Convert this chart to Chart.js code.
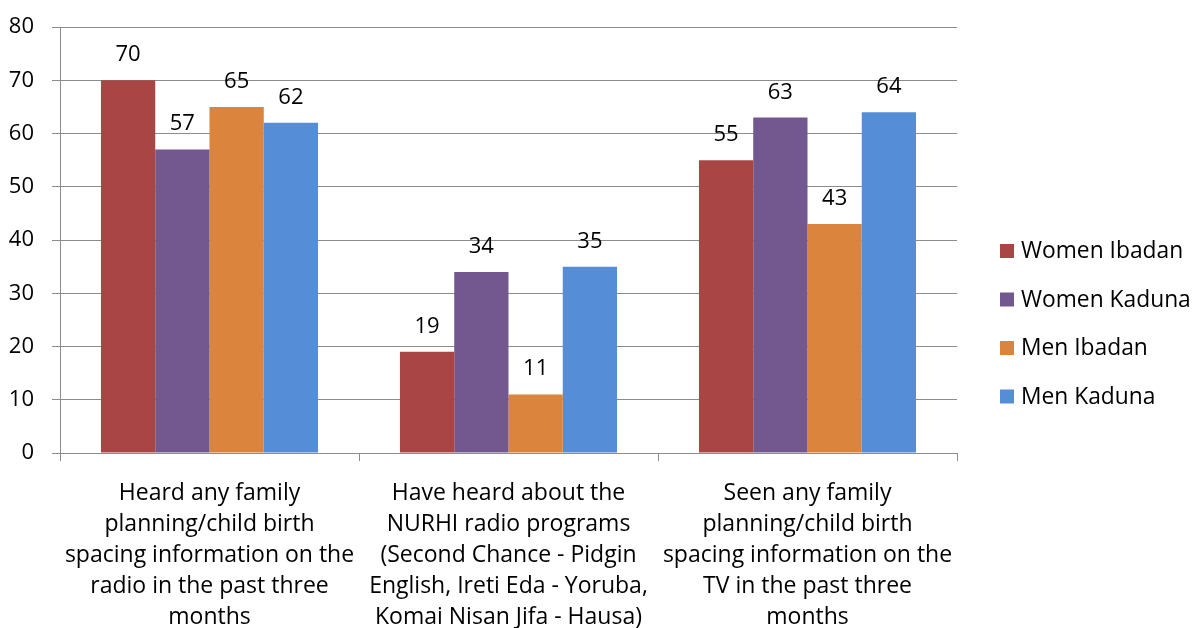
<!DOCTYPE html>
<html>
<head>
<meta charset="utf-8">
<script src="https://cdn.jsdelivr.net/npm/chart.js@4/dist/chart.umd.min.js"></script>
<style>
  html, body { margin: 0; padding: 0; background: #fff; }
  #wrap { width: 1195px; height: 628px; position: relative; }
</style>
</head>
<body>
<div id="wrap"><canvas id="chart"></canvas></div>
<script>
// survey exposure to FP/child birth spacing messages (%)
const categories = [
    ['Heard any family', 'planning/child birth', 'spacing information on the', 'radio in the past three', 'months'],
    ['Have heard about the', 'NURHI radio programs', '(Second Chance - Pidgin', 'English, Ireti Eda - Yoruba,', 'Komai Nisan Jifa - Hausa)'],
    ['Seen any family', 'planning/child birth', 'spacing information on the', 'TV in the past three', 'months']
];
const seriesNames = ['Women Ibadan', 'Women Kaduna', 'Men Ibadan', 'Men Kaduna'];
const womenIbadan = [70, 19, 55];
const womenKaduna = [57, 34, 63];
const menIbadan = [65, 11, 43];
const menKaduna = [62, 35, 64];
const seriesColors = ['#A94645', '#735890', '#DB843D', '#558ED6'];
const yTicks = [0, 10, 20, 30, 40, 50, 60, 70, 80];

const FONT = '"Open Sans", "Liberation Sans", sans-serif';
const GRID = '#8c8c8c';

// value labels above each bar
const valueLabels = {
    id: 'valueLabels',
    afterDatasetsDraw(chart) {
        const ctx = chart.ctx;
        ctx.save();
        ctx.font = '22px ' + FONT;
        ctx.fillStyle = '#000';
        ctx.textAlign = 'center';
        ctx.textBaseline = 'alphabetic';
        chart.data.datasets.forEach((ds, i) => {
            chart.getDatasetMeta(i).data.forEach((bar, j) => {
                ctx.fillText(String(ds.data[j]), bar.x, bar.y - 19);
            });
        });
        ctx.restore();
    }
};

// legend drawn to the right of the plot
const sideLegend = {
    id: 'sideLegend',
    afterDraw(chart) {
        const ctx = chart.ctx;
        ctx.save();
        ctx.font = '22.8px ' + FONT;
        ctx.textBaseline = 'middle';
        ctx.textAlign = 'left';
        chart.data.datasets.forEach((ds, i) => {
            const y = 251 + i * 48.5;
            ctx.fillStyle = ds.backgroundColor;
            ctx.fillRect(1000, y - 7, 14, 14);
            ctx.fillStyle = '#000';
            ctx.fillText(ds.label, 1021, y + 1);
        });
        ctx.restore();
    }
};

const seriesData = [womenIbadan, womenKaduna, menIbadan, menKaduna];

new Chart(document.getElementById('chart').getContext('2d'), {
    type: 'bar',
    data: {
        labels: categories,
        datasets: seriesNames.map((name, i) => ({
            label: name,
            data: seriesData[i],
            backgroundColor: seriesColors[i],
            borderWidth: 0,
            categoryPercentage: 0.726,
            barPercentage: 1
        }))
    },
    options: {
        responsive: true, maintainAspectRatio: false,
        animation: false,
        layout: { padding: { top: 27, right: 238, bottom: 0, left: 0 } },
        plugins: {
            legend: { display: false },
            tooltip: { enabled: false }
        },
        scales: {
            x: {
                grid: { display: true, drawOnChartArea: false, offset: true, color: GRID, tickLength: 8, lineWidth: 1 },
                border: { display: true, color: GRID, width: 1 },
                ticks: { font: { family: FONT, size: 23, lineHeight: 1.35 }, color: '#000', maxRotation: 0, autoSkip: false, padding: 17 },
                afterFit: (scale) => { scale.height = 175; }
            },
            y: {
                min: 0, max: 80,
                afterBuildTicks: (scale) => { scale.ticks = yTicks.map(v => ({ value: v })); },
                grid: { color: GRID, tickLength: 8, lineWidth: 1 },
                border: { display: true, color: GRID, width: 1 },
                ticks: { font: { family: FONT, size: 22 }, color: '#000', padding: 18 },
                afterFit: (scale) => {
                    scale.width = 60;
                    // the tick padding would otherwise push the plot top down
                    scale.paddingTop = 0;
                    scale.paddingBottom = 0;
                }
            }
        }
    },
    plugins: [valueLabels, sideLegend]
});
</script>
</body>
</html>
